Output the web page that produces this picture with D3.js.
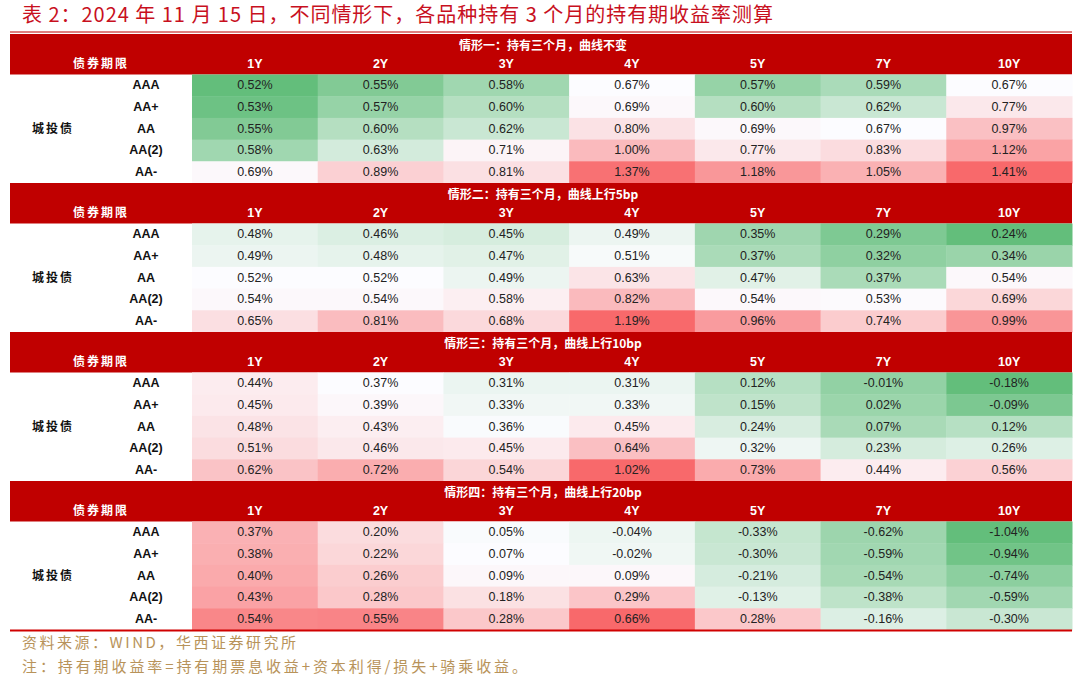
<!DOCTYPE html>
<html><head><meta charset="utf-8">
<script src="https://cdn.jsdelivr.net/npm/d3@7"></script>
<style>html,body{margin:0;padding:0;background:#fff;}svg{display:block;}</style>
</head><body>
<script>
const chartTitle = "表 2：2024 年 11 月 15 日，不同情形下，各品种持有 3 个月的持有期收益率测算";
const tenors = ["1Y","2Y","3Y","4Y","5Y","7Y","10Y"];
const ratings = ["AAA","AA+","AA","AA(2)","AA-"];
const bondType = "城投债";
const headerLabel = "债券期限";
const scenarioTitles = [
  "情形一：持有三个月，曲线不变",
  "情形二：持有三个月，曲线上行5bp",
  "情形三：持有三个月，曲线上行10bp",
  "情形四：持有三个月，曲线上行20bp"
];
// rows = ratings, columns = tenors (values in %)
const scenario1 = [
  [0.52,0.55,0.58,0.67,0.57,0.59,0.67],
  [0.53,0.57,0.60,0.69,0.60,0.62,0.77],
  [0.55,0.60,0.62,0.80,0.69,0.67,0.97],
  [0.58,0.63,0.71,1.00,0.77,0.83,1.12],
  [0.69,0.89,0.81,1.37,1.18,1.05,1.41]
];
const scenario2 = [
  [0.48,0.46,0.45,0.49,0.35,0.29,0.24],
  [0.49,0.48,0.47,0.51,0.37,0.32,0.34],
  [0.52,0.52,0.49,0.63,0.47,0.37,0.54],
  [0.54,0.54,0.58,0.82,0.54,0.53,0.69],
  [0.65,0.81,0.68,1.19,0.96,0.74,0.99]
];
const scenario3 = [
  [0.44,0.37,0.31,0.31,0.12,-0.01,-0.18],
  [0.45,0.39,0.33,0.33,0.15,0.02,-0.09],
  [0.48,0.43,0.36,0.45,0.24,0.07,0.12],
  [0.51,0.46,0.45,0.64,0.32,0.23,0.26],
  [0.62,0.72,0.54,1.02,0.73,0.44,0.56]
];
const scenario4 = [
  [0.37,0.20,0.05,-0.04,-0.33,-0.62,-1.04],
  [0.38,0.22,0.07,-0.02,-0.30,-0.59,-0.94],
  [0.40,0.26,0.09,0.09,-0.21,-0.54,-0.74],
  [0.43,0.28,0.18,0.29,-0.13,-0.38,-0.59],
  [0.54,0.55,0.28,0.66,0.28,-0.16,-0.30]
];
const sourceText = "资料来源：WIND，华西证券研究所";
const noteText = "注：持有期收益率=持有期票息收益+资本利得/损失+骑乘收益。";

const scenarios = [scenario1, scenario2, scenario3, scenario4];

const W = 1080, H = 684;
const RED = "#c00000";
const left = 10, right = 1072, dataLeft = 192;
const tableTop = 34, headerH = 40.5, rowH = 21.7;
const sectionH = headerH + rowH * ratings.length;
const CJK = "'Noto Sans CJK SC','Noto Sans',sans-serif";
const LAT = "'Liberation Sans',Arial,sans-serif";

const fmt = d3.formatLocale({decimal:".",thousands:",",grouping:[3],currency:["",""],minus:"-"}).format(".2f");

const svg = d3.select("body").append("svg").attr("width", W).attr("height", H);
svg.append("rect").attr("width", W).attr("height", H).attr("fill", "#fff");

// title
svg.append("text").attr("x", 22).attr("y", 17).attr("dominant-baseline", "middle")
  .attr("font-family", CJK).attr("font-size", 20).attr("fill", "#c8101e")
  .attr("textLength", 751).attr("lengthAdjust", "spacing")
  .text(chartTitle);

// top rule
svg.append("line").attr("x1", left).attr("x2", right).attr("y1", 32).attr("y2", 32)
  .attr("stroke", RED).attr("stroke-width", 1.2);

const x = d3.scaleBand().domain(tenors).range([dataLeft, right]);
const sectionY = d3.scaleLinear().domain([0, 1]).range([tableTop, tableTop + sectionH]);

scenarios.forEach((data, s) => {
  const top = sectionY(s);
  const g = svg.append("g");
  // header
  g.append("rect").attr("x", left).attr("y", top).attr("width", right - left).attr("height", headerH)
    .attr("fill", RED);
  g.append("text").attr("x", (left + right) / 2 + 2).attr("y", top + 12.5)
    .attr("text-anchor", "middle").attr("dominant-baseline", "middle")
    .attr("font-family", CJK).attr("font-weight", "bold").attr("font-size", 12).attr("fill", "#fff")
    .text(scenarioTitles[s]);
  g.append("text").attr("x", 101).attr("y", top + 31)
    .attr("text-anchor", "middle").attr("dominant-baseline", "middle")
    .attr("font-family", CJK).attr("font-weight", "bold").attr("font-size", 12).attr("fill", "#fff")
    .attr("letter-spacing", 2)
    .text(headerLabel);
  g.selectAll("text.ten").data(tenors).enter().append("text").attr("class", "ten")
    .attr("x", d => x(d) + x.bandwidth() / 2).attr("y", top + 31)
    .attr("text-anchor", "middle").attr("dominant-baseline", "middle")
    .attr("font-family", LAT).attr("font-weight", "bold").attr("font-size", 12.5).attr("fill", "#fff")
    .text(d => d);

  // data
  const y = d3.scaleBand().domain(ratings).range([top + headerH, top + headerH + rowH * ratings.length]);
  const flat = data.flat();
  const mid = d3.quantile(flat.slice().sort(d3.ascending), 0.5);
  const color = d3.scaleLinear().domain([d3.min(flat), mid, d3.max(flat)])
    .range(["#63BE7B", "#FCFCFF", "#F8696B"]).interpolate(d3.interpolateRgb);

  const cells = [];
  data.forEach((row, i) => row.forEach((v, j) => cells.push({r: ratings[i], t: tenors[j], v})));

  g.selectAll("rect.cell").data(cells).enter().append("rect").attr("class", "cell")
    .attr("x", d => x(d.t)).attr("y", d => y(d.r))
    .attr("width", x.bandwidth() + 0.5).attr("height", y.bandwidth() + 0.5)
    .attr("fill", d => color(d.v));
  g.selectAll("text.val").data(cells).enter().append("text").attr("class", "val")
    .attr("x", d => x(d.t) + x.bandwidth() / 2).attr("y", d => y(d.r) + y.bandwidth() / 2 + 0.5)
    .attr("text-anchor", "middle").attr("dominant-baseline", "middle")
    .attr("font-family", LAT).attr("font-size", 12.5).attr("fill", "#222")
    .text(d => fmt(d.v) + "%");
  g.selectAll("text.rat").data(ratings).enter().append("text").attr("class", "rat")
    .attr("x", 146).attr("y", d => y(d) + y.bandwidth() / 2 + 0.5)
    .attr("text-anchor", "middle").attr("dominant-baseline", "middle")
    .attr("font-family", LAT).attr("font-weight", "bold").attr("font-size", 12.5).attr("fill", "#111")
    .text(d => d);
  g.append("text").attr("x", 53).attr("y", y("AA") + y.bandwidth() / 2 + 0.5)
    .attr("text-anchor", "middle").attr("dominant-baseline", "middle")
    .attr("font-family", CJK).attr("font-weight", "bold").attr("font-size", 12).attr("fill", "#111")
    .attr("letter-spacing", 2)
    .text(bondType);
});

// bottom rule
const bottom = sectionY(scenarios.length);
svg.append("line").attr("x1", left).attr("x2", right).attr("y1", bottom + 0.5).attr("y2", bottom + 0.5)
  .attr("stroke", "#d00000").attr("stroke-width", 2);

// footer
svg.append("text").attr("x", 22).attr("y", 644).attr("dominant-baseline", "middle")
  .attr("font-family", CJK).attr("font-size", 15).attr("fill", "#b8935a")
  .attr("textLength", 274).attr("lengthAdjust", "spacing")
  .text(sourceText);
svg.append("text").attr("x", 22).attr("y", 668).attr("dominant-baseline", "middle")
  .attr("font-family", CJK).attr("font-size", 15).attr("fill", "#b8935a")
  .attr("textLength", 505).attr("lengthAdjust", "spacing")
  .text(noteText);
</script>
</body></html>
